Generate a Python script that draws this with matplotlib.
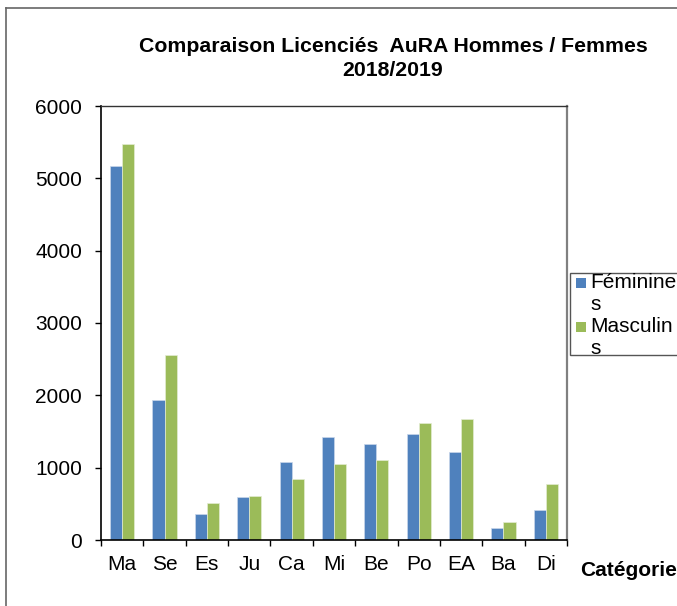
import matplotlib
matplotlib.use("Agg")
import matplotlib.pyplot as plt
from matplotlib.patches import Rectangle
from matplotlib.lines import Line2D
import numpy as np

plt.rcParams['font.family'] = ['Liberation Sans', 'DejaVu Sans']

categories = ["Ma", "Se", "Es", "Ju", "Ca", "Mi", "Be", "Po", "EA", "Ba", "Di"]
feminines = [5166, 1931, 355, 599, 1074, 1428, 1327, 1461, 1221, 161, 415]
masculins = [5475, 2558, 507, 608, 843, 1055, 1110, 1613, 1668, 249, 774]
series_names = ["Féminines", "Masculins"]
colors = ["#4F81BD", "#9BBB59"]
yticks = [0, 1000, 2000, 3000, 4000, 5000, 6000]

W, H = 677, 606
fig = plt.figure(figsize=(W / 100, H / 100), dpi=100)
ax = fig.add_axes([101 / W, 1 - 540 / H, (567 - 101) / W, (540 - 106) / H])

x = np.arange(len(categories))
bw = 0.285
ax.bar(x - bw / 2, feminines, bw, color=colors[0], edgecolor="#c9d7ea", linewidth=0.5)
ax.bar(x + bw / 2, masculins, bw, color=colors[1], edgecolor="#e3ecd3", linewidth=0.5)

ax.set_xlim(-0.5, len(categories) - 0.5)
ax.set_ylim(0, 6000)
ax.set_yticks(yticks)
ax.set_yticklabels([str(v) for v in yticks], fontsize=15)
ax.set_xticks(np.arange(len(categories) + 1) - 0.5)
ax.set_xticklabels([])
ax.set_xticks(x, minor=True)
ax.set_xticklabels(categories, minor=True, fontsize=15)
ax.tick_params(axis='y', direction='out', length=4.5, width=1, pad=9)
ax.tick_params(axis='x', which='major', direction='out', length=4.5, width=1)
ax.tick_params(axis='x', which='minor', length=0, pad=11)

for s in ['left', 'bottom']:
    ax.spines[s].set_color('black')
    ax.spines[s].set_linewidth(1.2)
ax.spines['top'].set_color('#333333')
ax.spines['top'].set_linewidth(1)
ax.spines['right'].set_color('#808080')
ax.spines['right'].set_linewidth(1.6)

# title
fig.text(393 / W, 1 - 46 / H, "Comparaison Licenciés  AuRA Hommes / Femmes",
         ha='center', va='center', fontsize=15.3, fontweight='bold')
fig.text(393 / W, 1 - 70 / H, "2018/2019",
         ha='center', va='center', fontsize=15.3, fontweight='bold')

# axis title
fig.text(580 / W, 1 - 571 / H, "Catégorie", ha='left', va='center',
         fontsize=15, fontweight='bold')

# outer chart border
fig.add_artist(Line2D([6 / W, 6 / W], [0, 1 - 8 / H], transform=fig.transFigure,
                      color='#666666', lw=1.2))
fig.add_artist(Line2D([6 / W, 1], [1 - 8 / H, 1 - 8 / H], transform=fig.transFigure,
                      color='#666666', lw=1.2))

# legend (manual, wrapped like reference)
fig.add_artist(Rectangle((570 / W, 1 - 355 / H), (W - 570 + 5) / W, 82 / H,
                         transform=fig.transFigure, facecolor='white',
                         edgecolor='#555555', lw=1))
line_y = [283, 305, 327, 349]
for i, name in enumerate(series_names):
    yc = line_y[2 * i]
    fig.add_artist(Rectangle((576 / W, 1 - (yc + 5) / H), 10 / W, 10 / H,
                             transform=fig.transFigure, facecolor=colors[i],
                             edgecolor='none'))
    fig.text(590 / W, 1 - yc / H, name[:-1], ha='left', va='center', fontsize=15)
    fig.text(590 / W, 1 - line_y[2 * i + 1] / H, name[-1:], ha='left', va='center',
             fontsize=15)

fig.savefig("out.png", dpi=100)
